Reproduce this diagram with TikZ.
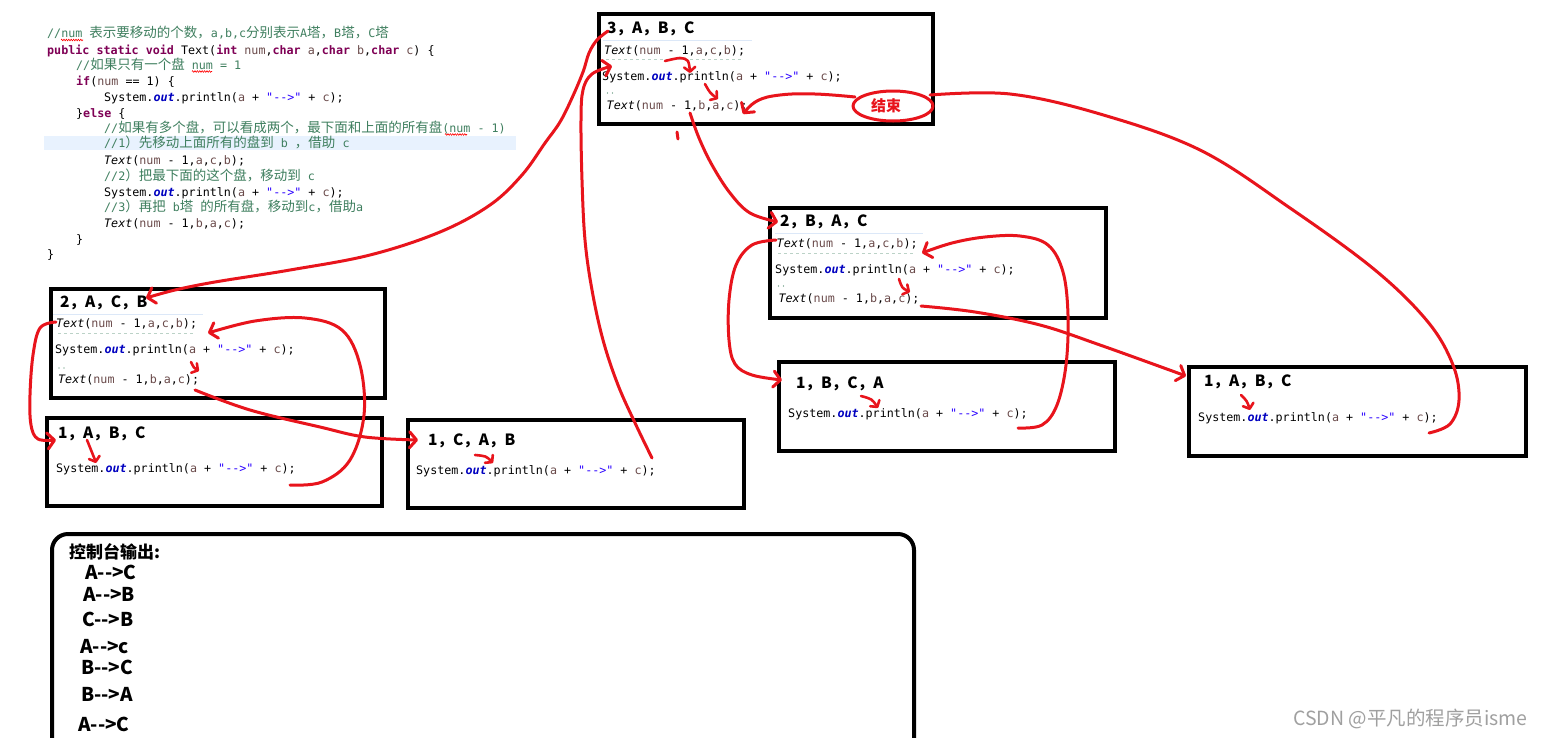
\documentclass[tikz,border=0pt]{standalone}
\usepackage{fontspec}
\usetikzlibrary{arrows.meta,decorations.pathmorphing}
\newfontfamily\codefont{DejaVu Sans Mono}
\newfontfamily\cjk{Noto Sans CJK SC}
\definecolor{cmt}{HTML}{3F7F5F}
\definecolor{kw}{HTML}{7F0055}
\definecolor{strc}{HTML}{2A00FF}
\definecolor{fld}{HTML}{0000C0}
\definecolor{var}{HTML}{6A4A4A}
\definecolor{hred}{HTML}{E8141C}
\definecolor{hl}{HTML}{E8F2FE}
\definecolor{rulec}{HTML}{DCE8F8}
\definecolor{wm}{HTML}{A0A0A0}
\newcommand\kwd[1]{{\color{kw}\bfseries #1}}
\newcommand\fldo[1]{{\color{fld}\bfseries\itshape #1}}
\newcommand\strq[1]{{\color{strc}#1}}
\newcommand\vr[1]{{\color{var}#1}}
\newcommand\zhc[1]{{\cjk\fontsize{13.5}{14}\selectfont #1}}
\newcommand\prtln{System.\fldo{out}.println(\vr{a} + \strq{"-{}->"} + \vr{c});}
\newcommand\txacb{\textit{Text}(\vr{num} - 1,\vr{a},\vr{c},\vr{b});}
\newcommand\txbac{\textit{Text}(\vr{num} - 1,\vr{b},\vr{a},\vr{c});}
\tikzset{
  code/.style={anchor=base west, inner sep=0pt, font=\codefont\fontsize{11.7}{14}\selectfont},
  hdr/.style={anchor=base west, inner sep=0pt, font=\cjk\bfseries\fontsize{15.5}{18}\selectfont},
  outl/.style={anchor=base west, inner sep=0pt, font=\cjk\bfseries\fontsize{19}{21}\selectfont},
  box/.style={draw=black, line width=4pt, inner sep=0pt},
  hand/.style={draw=hred, line width=3pt, line cap=round, line join=round},
  harrow/.style={hand, -{Straight Barb[length=7pt,width=16pt,round]}},
  hsmall/.style={hand, line width=2.6pt, -{Straight Barb[length=4.5pt,width=11pt,round]}},
  squig/.style={draw=red, line width=0.6pt, decorate, decoration={zigzag, segment length=2.4pt, amplitude=0.8pt}},
  hlrule/.style={draw=rulec, line width=1pt},
  cutcmt/.style={draw=cmt, opacity=0.35, line width=1.5pt, dash pattern=on 2.5pt off 3.5pt},
}
\begin{document}
\begin{tikzpicture}[x=1pt,y=-1pt]
\useasboundingbox[fill=white] (0,0) rectangle (1542,737);

% ---------- code listing ----------
\fill[hl] (44,136) rectangle (516,150);
\node[code] (c1) at (47,37.3) {\color{cmt}//num \zhc{表示要移动的个数，}a,b,c\zhc{分别表示}A\zhc{塔，}B\zhc{塔，}C\zhc{塔}};
\node[code] (c2) at (47,54.3) {\kwd{public static void} Text(\kwd{int} \vr{num},\kwd{char} \vr{a},\kwd{char} \vr{b},\kwd{char} \vr{c}) \{};
\node[code] (c3) at (76,69.3) {\color{cmt}//\zhc{如果只有一个盘} num = 1};
\node[code] (c4) at (76,85.3) {\kwd{if}(\vr{num} == 1) \{};
\node[code] (c5) at (104,101) {\prtln};
\node[code] (c6) at (76,117) {\}\kwd{else} \{};
\node[code] (c7) at (104,132.6) {\color{cmt}//\zhc{如果有多个盘，可以看成两个，最下面和上面的所有盘}(num - 1)};
\node[code] (c8) at (104,147.6) {\color{cmt}//1\zhc{）先移动上面所有的盘到} b \zhc{，借助} c};
\node[code] (c9) at (104,164.3) {\txacb};
\node[code] (c10) at (104,180) {\color{cmt}//2\zhc{）把最下面的这个盘，移动到} c};
\node[code] (c11) at (104,196) {\prtln};
\node[code] (c12) at (104,211.6) {\color{cmt}//3\zhc{）再把} b\zhc{塔} \zhc{的所有盘，移动到}c\zhc{，借助}a};
\node[code] (c13) at (104,227.6) {\txbac};
\node[code] (c14) at (76,243.3) {\}};
\node[code] (c15) at (47,258.6) {\}};
\draw[squig] (61,40) -- (83,40);
\draw[squig] (192,71.5) -- (212,71.5);
\draw[squig] (445,134.5) -- (467,134.5);

% ---------- boxes ----------
\node[box, minimum width=334pt, minimum height=110pt] (b3) at (766,69) {};
\node[box, minimum width=336pt, minimum height=110pt] (b2r) at (938,263) {};
\node[box, minimum width=334pt, minimum height=109pt] (b2l) at (217.5,343.5) {};
\node[box, minimum width=335pt, minimum height=88pt] (b1a) at (214.5,462) {};
\node[box, minimum width=336pt, minimum height=88pt] (b1b) at (576,464) {};
\node[box, minimum width=336pt, minimum height=89pt] (b1c) at (947,406.5) {};
\node[box, minimum width=337pt, minimum height=89pt] (b1d) at (1357.5,411.5) {};

% box 3
\draw[hlrule] (603,40.5) -- (752,40.5);
\draw[cutcmt] (606,59.5) -- (742,59.5);
\fill[cmt] (607.5,93) circle (0.7) (612.5,93) circle (0.7);
\node[hdr] (h3) at (607,33.5) {3，A，B，C};
\node[code] (t3a) at (604,54) {\txacb};
\node[code] (t3p) at (602,80.3) {\prtln};
\node[code] (t3b) at (606.5,109) {\txbac};

% box 2 right
\draw[hlrule] (775,233) -- (923,233);
\draw[cutcmt] (778,253.5) -- (913,253.5);
\fill[cmt] (778.5,286) circle (0.7) (783.5,286) circle (0.7);
\node[hdr] (h2r) at (780,226.2) {2，B，A，C};
\node[code] (t2ra) at (776.5,247) {\txacb};
\node[code] (t2rp) at (775,273.3) {\prtln};
\node[code] (t2rb) at (778.3,302) {\txbac};

% box 2 left
\draw[hlrule] (53,314) -- (203,314);
\draw[cutcmt] (58,333.5) -- (193,333.5);
\fill[cmt] (59,368) circle (0.7) (64,368) circle (0.7);
\node[hdr] (h2l) at (60,307.2) {2，A，C，B};
\node[code] (t2la) at (56,327.6) {\txacb};
\node[code] (t2lp) at (55,353.6) {\prtln};
\node[code] (t2lb) at (58,383.3) {\txbac};

% boxes level 1
\node[hdr] (h1a) at (58,438.5) {1，A，B，C};
\node[code] (p1a) at (56,472.6) {\prtln};
\node[hdr] (h1b) at (428,445.5) {1，C，A，B};
\node[code] (p1b) at (416,474.3) {\prtln};
\node[hdr] (h1c) at (796,388.5) {1，B，C，A};
\node[code] (p1c) at (788,417.3) {\prtln};
\node[hdr] (h1d) at (1204,386.5) {1，A，B，C};
\node[code] (p1d) at (1198,421.3) {\prtln};

% ---------- console output ----------
\draw[line width=4pt, rounded corners=16pt] (52,745) -- (52,534) -- (914,534) -- (914,745);
\node[anchor=base west, inner sep=0pt, font=\cjk\bfseries\fontsize{17}{20}\selectfont] (con) at (69,558.7) {控制台输出:};
\node[outl] (o1) at (85,579.8) {A-{}->C};
\node[outl] (o2) at (83,601.8) {A-{}->B};
\node[outl] (o3) at (82,626.8) {C-{}->B};
\node[outl] (o4) at (80,653.3) {A-{}->c};
\node[outl] (o5) at (81,674.8) {B-{}->C};
\node[outl] (o6) at (81,701.8) {B-{}->A};
\node[outl] (o7) at (78,731.8) {A-{}->C};

% watermark
\node[anchor=base west, inner sep=0pt, text=wm, font=\cjk\fontsize{19.5}{21}\selectfont] (wmk) at (1293,725) {CSDN @平凡的程序员isme};

% ---------- red hand-drawn annotations ----------
% 3,A,B,C -> 2,A,C,B
\draw[harrow] plot[smooth,tension=0.6] coordinates {(608,31) (597,40) (589,53) (583,72) (572,98) (560,122) (545,143) (522,175) (490,205) (440,232) (370,255) (290,270) (215,282) (175,290) (146,298)};
% 1,C,A,B println -> box 3 println
\draw[harrow] plot[smooth,tension=0.6] coordinates {(652,458) (636,425) (618,385) (603,340) (592,290) (585,240) (582,180) (581,120) (583,90) (592,74) (612,66)};
% hooks inside box 3
\draw[hsmall] plot[smooth] coordinates {(665,61) (680,58) (688,61) (690,73)};
\draw[hsmall] (705,84) .. controls (710,93) .. (718,99);
% box 3 second call -> 2,B,A,C
\draw[harrow] plot[smooth,tension=0.6] coordinates {(690,113) (699,138) (712,165) (730,193) (750,213) (778,222)};
\draw[hand] (677,132) -- (678,139);
% end ellipse and return
\draw[hand] (893,106) ellipse [x radius=40pt, y radius=15pt];
\node[inner sep=0pt, text=hred, font=\cjk\bfseries\fontsize{15}{16}\selectfont] (jieshu) at (886,106) {结束};
\draw[harrow] plot[smooth,tension=0.7] coordinates {(855,97) (815,94) (780,95) (757,101) (743,114)};
\draw[hand] plot[smooth,tension=0.6] coordinates {(930,95) (1010,94) (1100,114) (1200,150) (1290,208) (1375,270) (1428,322) (1453,365) (1459,400) (1450,424) (1429,433)};
% box 2 right
\draw[harrow] plot[smooth,tension=0.6] coordinates {(776,240) (752,245) (736,265) (729,300) (729,340) (735,364) (752,375) (782,380)};
\draw[harrow] plot[smooth,tension=0.6] coordinates {(1018,428) (1042,425) (1057,405) (1066,365) (1068,315) (1063,272) (1048,245) (1020,236) (985,237) (952,243) (922,253)};
\draw[hsmall] (899,279) .. controls (902,288) .. (910,292);
\draw[harrow] plot[smooth,tension=0.6] coordinates {(921,306) (975,312) (1040,325) (1100,345) (1186,376)};
% box 2 left
\draw[harrow] plot[smooth,tension=0.6] coordinates {(56,322) (40,328) (33,355) (30,395) (31,425) (38,439) (56,440)};
\draw[harrow] plot[smooth,tension=0.6] coordinates {(290,485) (322,482) (350,460) (364,415) (360,365) (342,330) (305,318) (255,321) (208,333)};
\draw[hsmall] (191,362) .. controls (194,368) .. (199,371);
\draw[harrow] plot[smooth,tension=0.6] coordinates {(195,390) (250,410) (320,427) (365,437) (418,440)};
% small arrows in level-1 boxes
\draw[hsmall] (87,440) .. controls (92,450) .. (96,463);
\draw[hsmall] (475,455) .. controls (486,456) .. (493,463);
\draw[hsmall] (861,396) .. controls (872,399) .. (878,408);
\draw[hsmall] (1241,395) .. controls (1247,401) .. (1250,410);
\end{tikzpicture}
\end{document}
